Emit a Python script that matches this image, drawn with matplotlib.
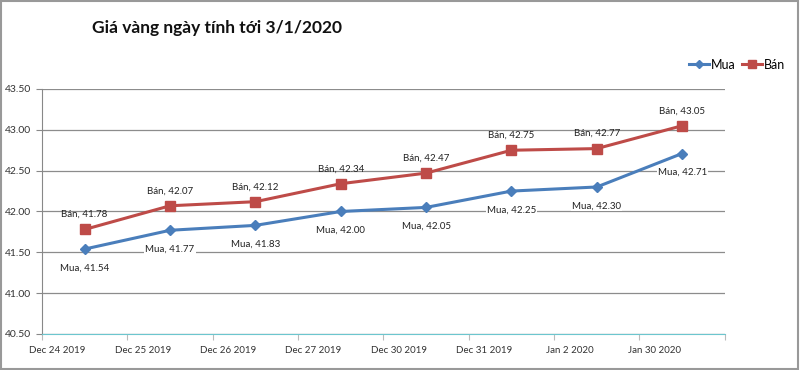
import numpy as np
import matplotlib.pyplot as plt
from matplotlib.patches import Rectangle

plt.rcParams['font.family'] = ['Lato', 'DejaVu Sans']

# data
dates = ["Dec 24 2019", "Dec 25 2019", "Dec 26 2019", "Dec 27 2019",
         "Dec 30 2019", "Dec 31 2019", "Jan 2 2020", "Jan 30 2020"]
mua = [41.54, 41.77, 41.83, 42.00, 42.05, 42.25, 42.30, 42.71]
ban = [41.78, 42.07, 42.12, 42.34, 42.47, 42.75, 42.77, 43.05]

blue = '#4A7EBB'
red = '#BE4B48'

fig = plt.figure(figsize=(8, 3.7), dpi=100)
ax = fig.add_axes([0.0525, 0.0973, 0.8535, 0.6622])

x = np.arange(len(dates)) + 0.5
ax.plot(x, mua, color=blue, lw=2.2, marker='D', ms=5, label='Mua', zorder=3)
ax.plot(x, ban, color=red, lw=2.2, marker='s', ms=7, label='Bán', zorder=3)

# data labels
for xi, v in zip(x, ban):
    ax.annotate(f"Bán, {v:.2f}", (xi, v), xytext=(0, 15), textcoords='offset pixels',
                ha='center', va='center', fontsize=7, color='#222222')
for xi, v in zip(x, mua):
    ax.annotate(f"Mua, {v:.2f}", (xi, v), xytext=(0, -19), textcoords='offset pixels',
                ha='center', va='center', fontsize=7, color='#222222',
                bbox=dict(boxstyle='square,pad=0.1', fc='white', ec='none'), zorder=2)

ax.set_xlim(0, len(dates))
ax.set_ylim(40.5, 43.5)
ax.set_yticks(np.arange(40.5, 43.51, 0.5))
ax.set_yticklabels([f"{t:.2f}" for t in np.arange(40.5, 43.51, 0.5)], fontsize=7.5, color='#333333')
ax.set_xticks(np.arange(len(dates) + 1))
ax.set_xticklabels([])
ax.set_xticks(np.arange(len(dates)) + 0.18, minor=True)
ax.set_xticklabels(dates, minor=True, fontsize=7, color='#333333')
ax.tick_params(axis='x', which='major', length=4, color='#BBBBBB', direction='out')
ax.tick_params(axis='x', which='minor', length=0, pad=9)
ax.tick_params(axis='y', length=4, color='#888888', pad=4)

ax.grid(axis='y', color='#8C8C8C', lw=0.9)
ax.set_axisbelow(True)
for s in ['top', 'right']:
    ax.spines[s].set_visible(False)
ax.spines['left'].set_color('#888888')
ax.spines['bottom'].set_color('#6CC6CE')

fig.text(0.115, 0.925, "Giá vàng ngày tính tới 3/1/2020", fontsize=12.5,
         fontweight='bold', va='center', ha='left', color='#111111')

ax.legend(loc='center right', bbox_to_anchor=(0.995, 0.825), bbox_transform=fig.transFigure,
          frameon=False, ncol=2, fontsize=9, handlelength=1.6, columnspacing=0.5,
          handletextpad=0.15, markerscale=0.85)

fig.patches.append(Rectangle((0.001, 0.002), 0.997, 0.995, transform=fig.transFigure,
                             fill=False, ec='#999999', lw=1.5))

fig.savefig('out.png', dpi=100)
